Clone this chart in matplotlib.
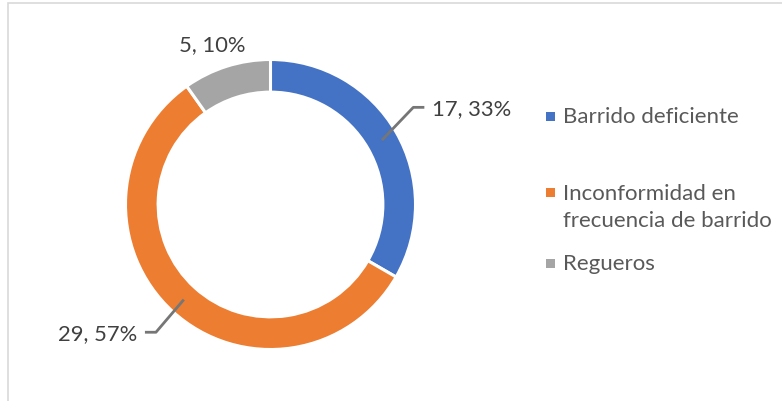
import matplotlib
matplotlib.use('Agg')
import matplotlib.pyplot as plt
from matplotlib.patches import Rectangle
import numpy as np

plt.rcParams['font.family'] = ['Lato', 'DejaVu Sans']

categories = ['Barrido deficiente', 'Inconformidad en\nfrecuencia de barrido', 'Regueros']
values = [17, 29, 5]
colors = ['#4472C4', '#ED7D31', '#A5A5A5']

W, H = 782, 402
fig = plt.figure(figsize=(W / 100, H / 100), dpi=100)

# chart frame (only left and top edges visible)
fig.add_artist(Rectangle((8 / W, -0.1), 1.2, (H - 4) / H + 0.1, transform=fig.transFigure,
                         fill=False, edgecolor='#D9D9D9', lw=1.2))

# pie axes: 1 data unit = R pixels
cx, cy, R = 270.5, H - 205.5, 145.0
ax = fig.add_axes([0, 0, 540 / W, 1])
wedges, _ = ax.pie(values, colors=colors, startangle=90, counterclock=False, radius=1,
                   wedgeprops=dict(width=0.225, edgecolor='white', linewidth=2.2))
ax.set_xlim(-cx / R, (540 - cx) / R)
ax.set_ylim(-cy / R, (H - cy) / R)
ax.set_aspect('equal', adjustable='datalim')
ax.axis('off')

total = sum(values)
labels = ['%d, %d%%' % (v, round(100 * v / total)) for v in values]

# label layout: (elbow, line end, text pos, ha) ; None = no leader
layout = [
    ((0.985, 0.670), (1.061, 0.670), (1.115, 0.664), 'left'),
    ((-0.790, -0.881), (-0.866, -0.881), (-0.922, -0.890), 'right'),
    (None, None, (-0.403, 1.107), 'center'),
]
for w, lab, (elbow, end, tpos, ha) in zip(wedges, labels, layout):
    if elbow is not None:
        ang = np.deg2rad((w.theta1 + w.theta2) / 2)
        r = 1 - 0.225 / 2
        ax.plot([r * np.cos(ang), elbow[0], end[0]], [r * np.sin(ang), elbow[1], end[1]],
                color='#767676', lw=2, solid_capstyle='butt')
    ax.text(tpos[0], tpos[1], lab, ha=ha, va='center', fontsize=15.8, color='#404040')

# legend drawn by hand to keep Excel spacing
marker_y = [117, 193, 264]
text_y = [117, 207.5, 264]
for lab, col, my, ty in zip(categories, colors, marker_y, text_y):
    fig.add_artist(Rectangle(((550 - 4.5) / W, (H - my - 4.5) / H), 9 / W, 9 / H,
                             transform=fig.transFigure, facecolor=col, edgecolor='none'))
    fig.text(563 / W, (H - ty) / H, lab, ha='left', va='center',
             fontsize=16, color='#595959', linespacing=1.4)

fig.savefig('out.png', dpi=100)
